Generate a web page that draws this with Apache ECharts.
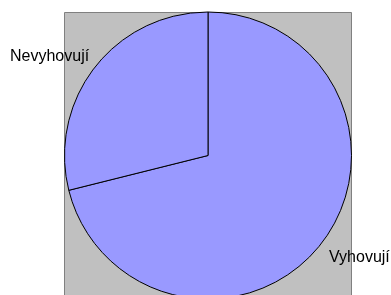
<!DOCTYPE html>
<html>
<head>
<meta charset="utf-8">
<script src="https://cdn.jsdelivr.net/npm/echarts@6/dist/echarts.min.js"></script>
<style>html,body{margin:0;padding:0;background:#fff}#c{width:391px;height:295px}</style>
</head>
<body>
<div id="c"></div>
<script>
var categories = ['Vyhovují', 'Nevyhovují'];
var values = [71.1, 28.9];

var chart = echarts.init(document.getElementById('c'), null, {renderer: 'canvas'});
var labelSpots = [
  {x: 329, y: 258},
  {x: 10, y: 57}
];
chart.setOption({
  animation: false,
  backgroundColor: '#ffffff',
  graphic: [{
    type: 'rect',
    z: -10,
    shape: {x: 64.5, y: 12.5, width: 287, height: 300},
    style: {fill: '#c0c0c0', stroke: '#808080', lineWidth: 1}
  }],
  series: [{
    type: 'pie',
    center: [208, 155.5],
    radius: [0, 143.5],
    startAngle: 90,
    clockwise: true,
    silent: true,
    itemStyle: {color: '#9999ff', borderColor: '#000000', borderWidth: 1},
    label: {
      show: true,
      position: 'outside',
      formatter: '{b}',
      color: '#000000',
      fontFamily: 'Liberation Sans, Arial, sans-serif',
      fontSize: 16,
      overflow: 'none',
      width: 200
    },
    labelLine: {show: false},
    labelLayout: function (p) {
      var s = labelSpots[p.dataIndex];
      return {x: s.x, y: s.y, align: 'left', verticalAlign: 'middle', hideOverlap: false, moveOverlap: false};
    },
    data: categories.map(function (c, i) { return {name: c, value: values[i]}; })
  }]
});
</script>
</body>
</html>
